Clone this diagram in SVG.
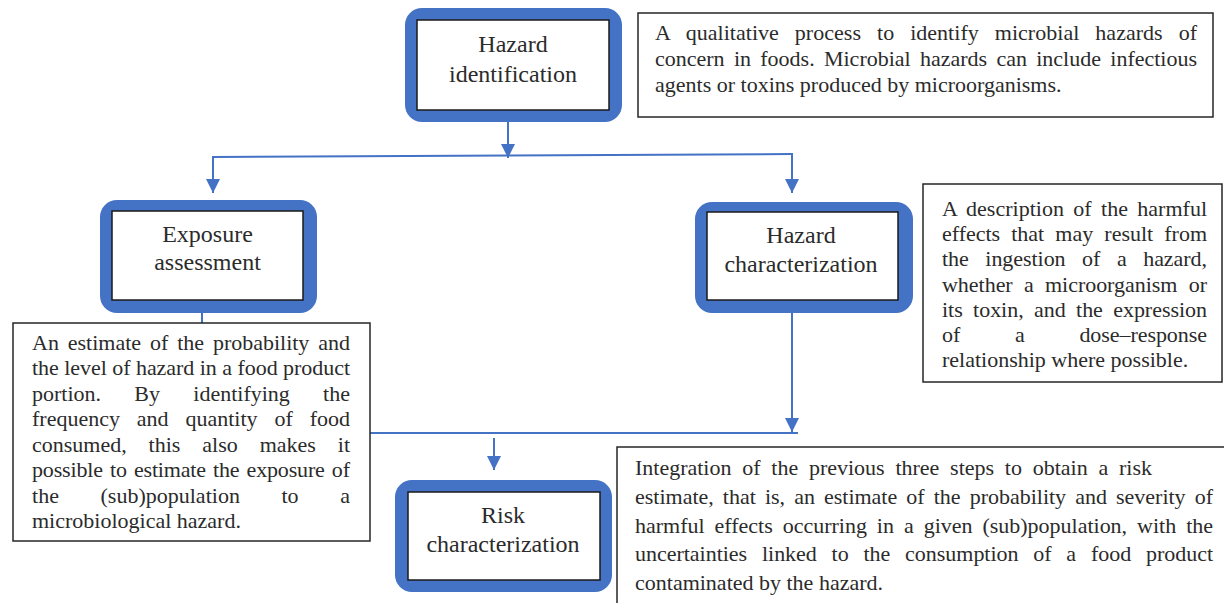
<svg xmlns="http://www.w3.org/2000/svg" width="1224" height="603" viewBox="0 0 1224 603">
  <defs>
    <style>
      .outer { fill: #4472C4; }
      .inner { fill: #ffffff; stroke: #1a1a1a; stroke-width: 1.5; }
      .lbl { font-family: "Liberation Serif", "Times New Roman", serif; font-size: 24px; fill: #2b2b2b; text-anchor: middle; }
      .dbox { fill: #ffffff; stroke: #262626; stroke-width: 1.5; }
      .desc { font-family: "Liberation Serif", "Times New Roman", serif; font-size: 22px; fill: #2b2b2b; }
      .conn { stroke: #4472C4; stroke-width: 2; fill: none; }
    </style>
    <marker id="ah" viewBox="0 0 14 14" refX="14" refY="7" markerWidth="14" markerHeight="14" markerUnits="userSpaceOnUse" orient="auto">
      <path d="M0,0 L14,7 L0,14 z" fill="#4472C4"/>
    </marker>
  </defs>
  <rect width="1224" height="603" fill="#ffffff"/>

  <g id="connectors">
    <path class="conn" d="M508,122 V158" marker-end="url(#ah)"/>
    <path class="conn" d="M213,157 L792,154"/>
    <path class="conn" d="M213,156 V193" marker-end="url(#ah)"/>
    <path class="conn" d="M792,153 V193" marker-end="url(#ah)"/>
    <path class="conn" d="M202,313 V323"/>
    <path class="conn" d="M792,313 V432" marker-end="url(#ah)"/>
    <path class="conn" d="M370,433 H798"/>
    <path class="conn" d="M494,438 V470" marker-end="url(#ah)"/>
  </g>

  <g id="hazard-identification">
    <rect class="outer" x="405" y="8" width="217" height="114" rx="17"/>
    <rect class="inner" x="417" y="20" width="192" height="90"/>
    <text class="lbl" x="513" y="52">Hazard</text>
    <text class="lbl" x="513" y="82">identification</text>
  </g>

  <g id="hazard-identification-desc">
    <rect class="dbox" x="638" y="13" width="575" height="104"/>
    <text class="desc" x="655" y="40" word-spacing="10.5" textLength="542" lengthAdjust="spacing">A qualitative process to identify microbial hazards of</text>
    <text class="desc" x="655" y="66" word-spacing="3.8" textLength="542" lengthAdjust="spacing">concern in foods. Microbial hazards can include infectious</text>
    <text class="desc" x="655" y="92">agents or toxins produced by microorganisms.</text>
  </g>

  <g id="exposure-assessment">
    <rect class="outer" x="100" y="200" width="217" height="113" rx="17"/>
    <rect class="inner" x="112" y="211" width="191" height="89"/>
    <text class="lbl" x="207.5" y="242">Exposure</text>
    <text class="lbl" x="207.5" y="270">assessment</text>
  </g>

  <g id="exposure-assessment-desc">
    <rect class="dbox" x="13" y="323" width="357" height="218"/>
    <text class="desc" x="32" y="350" word-spacing="3.4" textLength="318" lengthAdjust="spacing">An estimate of the probability and</text>
    <text class="desc" x="32" y="375" textLength="318" lengthAdjust="spacing">the level of hazard in a food product</text>
    <text class="desc" x="32" y="401" word-spacing="27.8" textLength="318" lengthAdjust="spacing">portion. By identifying the</text>
    <text class="desc" x="32" y="426" word-spacing="11.4" textLength="318" lengthAdjust="spacing">frequency and quantity of food</text>
    <text class="desc" x="32" y="452" word-spacing="16.4" textLength="318" lengthAdjust="spacing">consumed, this also makes it</text>
    <text class="desc" x="32" y="477" word-spacing="1.8" textLength="318" lengthAdjust="spacing">possible to estimate the exposure of</text>
    <text class="desc" x="32" y="503" word-spacing="36.1" textLength="318" lengthAdjust="spacing">the (sub)population to a</text>
    <text class="desc" x="32" y="528">microbiological hazard.</text>
  </g>

  <g id="hazard-characterization">
    <rect class="outer" x="695" y="202" width="218" height="111" rx="17"/>
    <rect class="inner" x="707" y="212" width="191" height="88"/>
    <text class="lbl" x="801" y="243">Hazard</text>
    <text class="lbl" x="801" y="272">characterization</text>
  </g>

  <g id="hazard-characterization-desc">
    <rect class="dbox" x="923" y="184" width="299" height="198"/>
    <text class="desc" x="942" y="216" word-spacing="3.9" textLength="265" lengthAdjust="spacing">A description of the harmful</text>
    <text class="desc" x="942" y="241" word-spacing="5.7" textLength="265" lengthAdjust="spacing">effects that may result from</text>
    <text class="desc" x="942" y="266" word-spacing="11.1" textLength="265" lengthAdjust="spacing">the ingestion of a hazard,</text>
    <text class="desc" x="942" y="292" word-spacing="5.8" textLength="265" lengthAdjust="spacing">whether a microorganism or</text>
    <text class="desc" x="942" y="317" word-spacing="4.9" textLength="265" lengthAdjust="spacing">its toxin, and the expression</text>
    <text class="desc" x="942" y="342" word-spacing="49.3" textLength="265" lengthAdjust="spacing">of a dose–response</text>
    <text class="desc" x="942" y="367">relationship where possible.</text>
  </g>

  <g id="risk-characterization">
    <rect class="outer" x="395" y="480" width="217" height="112" rx="17"/>
    <rect class="inner" x="408" y="492" width="192" height="88"/>
    <text class="lbl" x="503" y="523">Risk</text>
    <text class="lbl" x="503" y="552">characterization</text>
  </g>

  <g id="risk-characterization-desc">
    <rect class="dbox" x="617" y="447" width="620" height="170"/>
    <text class="desc" x="635" y="475" word-spacing="5.3" textLength="517" lengthAdjust="spacing">Integration of the previous three steps to obtain a risk</text>
    <text class="desc" x="635" y="504" word-spacing="3.6" textLength="578" lengthAdjust="spacing">estimate, that is, an estimate of the probability and severity of</text>
    <text class="desc" x="635" y="533" word-spacing="4.5" textLength="578" lengthAdjust="spacing">harmful effects occurring in a given (sub)population, with the</text>
    <text class="desc" x="635" y="561" word-spacing="9.3" textLength="578" lengthAdjust="spacing">uncertainties linked to the consumption of a food product</text>
    <text class="desc" x="635" y="590">contaminated by the hazard.</text>
  </g>
</svg>
